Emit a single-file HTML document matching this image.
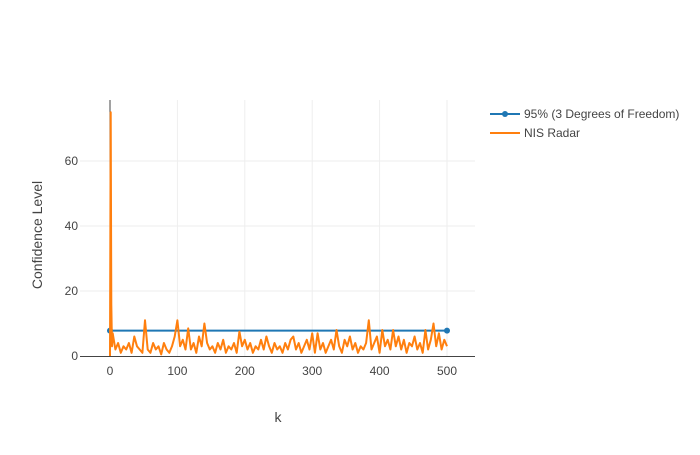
<!DOCTYPE html>
<html><head><meta charset="utf-8"><style>
body{margin:0;background:#fff}
svg{font-family:"Liberation Sans","Open Sans",sans-serif}
</style></head><body>
<svg id="chart" width="700" height="450">
<g id="grid"></g>
<g id="ticks" font-size="12" fill="#444"></g>
<g id="series"></g>
<text x="278" y="422" text-anchor="middle" font-size="14" fill="#444">k</text>
<text transform="translate(42,235) rotate(-90)" text-anchor="middle" font-size="14" fill="#444">Confidence Level</text>
<g font-size="12" fill="#444">
<g>
<line x1="490" y1="114" x2="520" y2="114" stroke="#1f77b4" stroke-width="2"/>
<circle cx="505" cy="114" r="3" fill="#1f77b4"/>
<text x="524" y="118">95% (3 Degrees of Freedom)</text></g>
<g>
<line x1="490" y1="133" x2="520" y2="133" stroke="#ff7f0e" stroke-width="2"/>
<text x="524" y="137">NIS Radar</text></g>
</g>
</svg>
<script>
const headK = [0,1,2,3];
const headNis = [0,75,16,3];
const kStep = 4;
const nisTail = [7,2,4,1,3,2,4,1,6,3,2,1,11,2,1,4,2,3,0.5,4,2,1,3,6,11,3,5,2,8.5,2,4,1,6,3,10,4,2,3,1,4,2,5,1,3,2,4,1,7.5,3,5,2,4,1,3,2,5,2,6,3,1,4,2,3,1,4,2,5,6,2,4,1,3,5,2,7,1,7,2,4,1,3,5,2,8,3,1,5,3,6,2,4,1,3,2,4,11,2,4,6,1,8,3,5,2,8,3,6,2,5,1,4,3,6,2,4,1,8,2,5,10,3,7,2,5,3];
const thresholdK = [0,500];
const thresholdVals = [7.81,7.81];
const xTicks = [0,100,200,300,400,500];
const yTicks = [0,20,40,60];

const NS='http://www.w3.org/2000/svg';
const X = k => 110 + k*0.674;
const Y = v => 356 - v*3.25;
function mk(tag, attrs, parent){const e=document.createElementNS(NS,tag);for(const a in attrs)e.setAttribute(a,attrs[a]);parent.appendChild(e);return e;}
const grid=document.getElementById('grid'), ticks=document.getElementById('ticks'), series=document.getElementById('series');
xTicks.forEach(t=>{
  if(t>0){const g=mk('line',{x1:X(t),x2:X(t),y1:100,y2:356,stroke:'#eee'},grid);
  
  }
  const l=mk('text',{x:X(t),y:375,'text-anchor':'middle'},ticks);l.textContent=t;
  
  
});
yTicks.forEach(t=>{
  if(t>0){const g=mk('line',{x1:80,x2:475,y1:Y(t),y2:Y(t),stroke:'#eee'},grid);
  
  }
  const l=mk('text',{x:78,y:Y(t)+4,'text-anchor':'end'},ticks);l.textContent=t;
  
  
});
const za=mk('line',{x1:X(0),x2:X(0),y1:100,y2:356,stroke:'#444','stroke-width':1},grid);


const xa=mk('line',{x1:80,x2:475,y1:356.5,y2:356.5,stroke:'#444','stroke-width':1},grid);



const ks=headK.slice(), vs=headNis.slice();
nisTail.forEach((v,i)=>{ks.push(4+kStep*i);vs.push(v);});
const nisPts=ks.map((k,i)=>X(k).toFixed(1)+','+Y(vs[i]).toFixed(1)).join(' ');
const thrPts=thresholdK.map((k,i)=>X(k)+','+Y(thresholdVals[i])).join(' ');
const tl=mk('polyline',{points:thrPts,fill:'none',stroke:'#1f77b4','stroke-width':2},series);


thresholdK.forEach((k,i)=>{const c=mk('circle',{cx:X(k),cy:Y(thresholdVals[i]),r:3,fill:'#1f77b4'},series);

});
const nl=mk('polyline',{points:nisPts,fill:'none',stroke:'#ff7f0e','stroke-width':2,'stroke-linejoin':'round'},series);


</script>
</body></html>
